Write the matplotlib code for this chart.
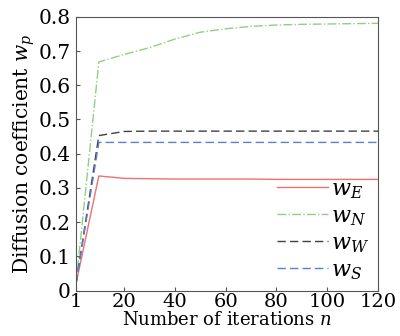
import numpy as np
import matplotlib.pyplot as plt

plt.rcParams['font.family'] = 'DejaVu Serif'
plt.rcParams['mathtext.fontset'] = 'dejavuserif'

# iteraciones y coeficientes
n = [1, 10, 20, 30, 40, 50, 60, 70, 80, 90, 100, 110, 120]
w_E = [0.02, 0.335, 0.328, 0.327, 0.326, 0.326, 0.326, 0.326, 0.325, 0.325, 0.325, 0.325, 0.325]
w_N = [0.02, 0.668, 0.69, 0.71, 0.735, 0.755, 0.765, 0.772, 0.776, 0.778, 0.779, 0.780, 0.781]
w_W = [0.02, 0.453, 0.465, 0.466, 0.466, 0.466, 0.466, 0.466, 0.466, 0.466, 0.466, 0.466, 0.466]
w_S = [0.02, 0.433, 0.433, 0.433, 0.433, 0.433, 0.433, 0.433, 0.433, 0.433, 0.433, 0.433, 0.433]

xticks = [1, 20, 40, 60, 80, 100, 120]
yticks = [0, 0.1, 0.2, 0.3, 0.4, 0.5, 0.6, 0.7, 0.8]
ylabels = ['0', '0.1', '0.2', '0.3', '0.4', '0.5', '0.6', '0.7', '0.8']

fig = plt.figure(figsize=(4.0, 3.36), dpi=100)
ax = fig.add_axes([0.19, 0.135, 0.755, 0.815])

ax.plot(n, w_E, color='#f07070', lw=1.0, label=r'$w_E$')
ax.plot(n, w_N, color='#8fd080', lw=1.0, ls='-.', label=r'$w_N$')
ax.plot(n, w_W, color='#404040', lw=1.0, ls=(0, (6, 3)), label=r'$w_W$')
ax.plot(n, w_S, color='#5a7ed0', lw=1.0, ls=(0, (6, 3)), label=r'$w_S$')

ax.set_xlim(1, 120)
ax.set_ylim(0, 0.8)
ax.set_xticks(xticks)
ax.set_yticks(yticks)
ax.set_yticklabels(ylabels)
ax.tick_params(direction='in', length=3, color='#555555')
ax.tick_params(axis='x', labelsize=14, pad=2)
ax.tick_params(axis='y', labelsize=14.5, pad=4)
for s in ax.spines.values():
    s.set_color('#555555')

ax.set_xlabel(r'Number of iterations $n$', fontsize=13, labelpad=0)
ax.set_ylabel(r'Diffusion coefficient $w_p$', fontsize=14.5, labelpad=1)

ax.legend(loc='lower right', frameon=False, fontsize=16, handlelength=2.3,
          labelspacing=0.2, borderaxespad=0.0, handletextpad=0.15)

fig.savefig('out.png', dpi=100)
